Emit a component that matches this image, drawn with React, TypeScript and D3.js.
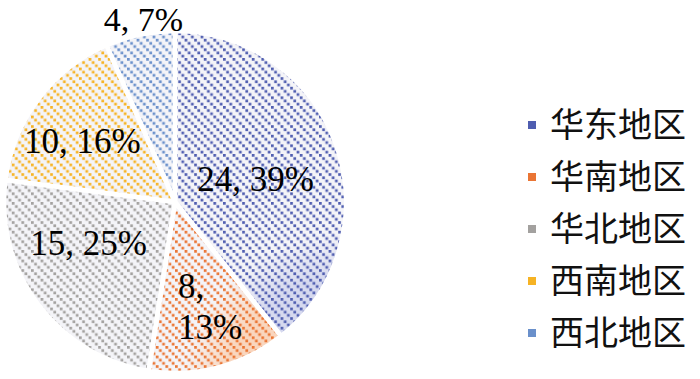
import React from "react";
import * as d3 from "d3";

const categories = ["华东地区", "华南地区", "华北地区", "西南地区", "西北地区"];
const values = [24, 8, 15, 10, 4];
const percents = ["39%", "13%", "25%", "16%", "7%"];
const dotColors = ["#4f5db0", "#ea7534", "#a3a19f", "#f6b324", "#6a90cb"];
const bgColors = ["#d6d9ef", "#f9d6be", "#e4e2e0", "#fde3a8", "#d3dff2"];
// label placement in polar terms: [radius fraction, angle in degrees clockwise from top]
const labelPolar: [number, number][] = [
  [0.49, 74],
  [0.63, 161],
  [0.56, 244.5],
  [0.65, 303.5],
  [1.085, 350.2],
];

const W = 700;
const H = 379;
const cx = 175;
const cy = 202;
const R = 171;
const T = 9.6;
const steps = [0, 1, 2];

export default function App() {
  const pie = d3.pie<number>().sort(null).value((d) => d)(values);
  const arc = d3.arc<d3.PieArcDatum<number>>().innerRadius(0).outerRadius(R);
  const legendY = d3.scaleLinear().domain([0, 4]).range([125, 333]);
  const fontSerif = "'Liberation Serif', 'Times New Roman', serif";
  const fontCJK = "'Noto Sans CJK SC', sans-serif";

  return (
    <svg
      width={W}
      height={H}
      style={{ position: "absolute", left: 0, top: 0, display: "block", background: "#fff" }}
    >
      <defs>
        {dotColors.map((c, i) => (
          <pattern key={"p" + i} id={"pat" + i} patternUnits="userSpaceOnUse" width={T} height={T}>
            {steps.map((k) => (
              <rect key={k} x={(k * T) / 3} y={(k * T) / 3} width={2.7} height={2.7} fill={c} />
            ))}
          </pattern>
        ))}
        {bgColors.map((c, i) => (
          <radialGradient key={"g" + i} id={"grad" + i} gradientUnits="userSpaceOnUse" cx={cx} cy={cy} r={R}>
            <stop offset="0%" stopColor={c} />
            <stop offset="75%" stopColor={c} />
            <stop offset="100%" stopColor="#f4f4f8" />
          </radialGradient>
        ))}
      </defs>
      <g transform={`translate(${cx},${cy})`}>
        {pie.map((d, i) => (
          <path key={"b" + i} d={arc(d) || ""} fill={`url(#grad${i})`} />
        ))}
      </g>
      {pie.map((d, i) => (
        <path key={"pq" + i} d={arc(d) || ""} transform={`translate(${cx},${cy})`} fill={`url(#pat${i})`} />
      ))}
      <g transform={`translate(${cx},${cy})`}>
        {pie.map((d, i) => (
          <path key={"s" + i} d={arc(d) || ""} fill="none" stroke="#fff" strokeWidth={4.5} strokeLinejoin="round" />
        ))}
      </g>
      {pie.map((d, i) => {
        const [f, deg] = labelPolar[i];
        const a = (deg * Math.PI) / 180;
        const x = cx + f * R * Math.sin(a);
        const y = cy - f * R * Math.cos(a);
        if (i === 1) {
          return (
            <text key={"l" + i} fontFamily={fontSerif} fontSize={35} fill="#000" textAnchor="start">
              <tspan x={x - 32} y={y - 6}>{`${values[i]},`}</tspan>
              <tspan x={x - 32} y={y + 35}>{percents[i]}</tspan>
            </text>
          );
        }
        return (
          <text key={"l" + i} x={x} y={y + 12} fontFamily={fontSerif} fontSize={i === 4 ? 34 : 35} fill="#000" textAnchor="middle">
            {`${values[i]}, ${percents[i]}`}
          </text>
        );
      })}
      {categories.map((c, i) => (
        <g key={"lg" + i} transform={`translate(0,${legendY(i)})`}>
          <rect x={528} y={-4} width={8} height={8} fill={dotColors[i]} />
          <text x={550} y={12} fontFamily={fontCJK} fontSize={34} fill="#111">
            {c}
          </text>
        </g>
      ))}
    </svg>
  );
}
